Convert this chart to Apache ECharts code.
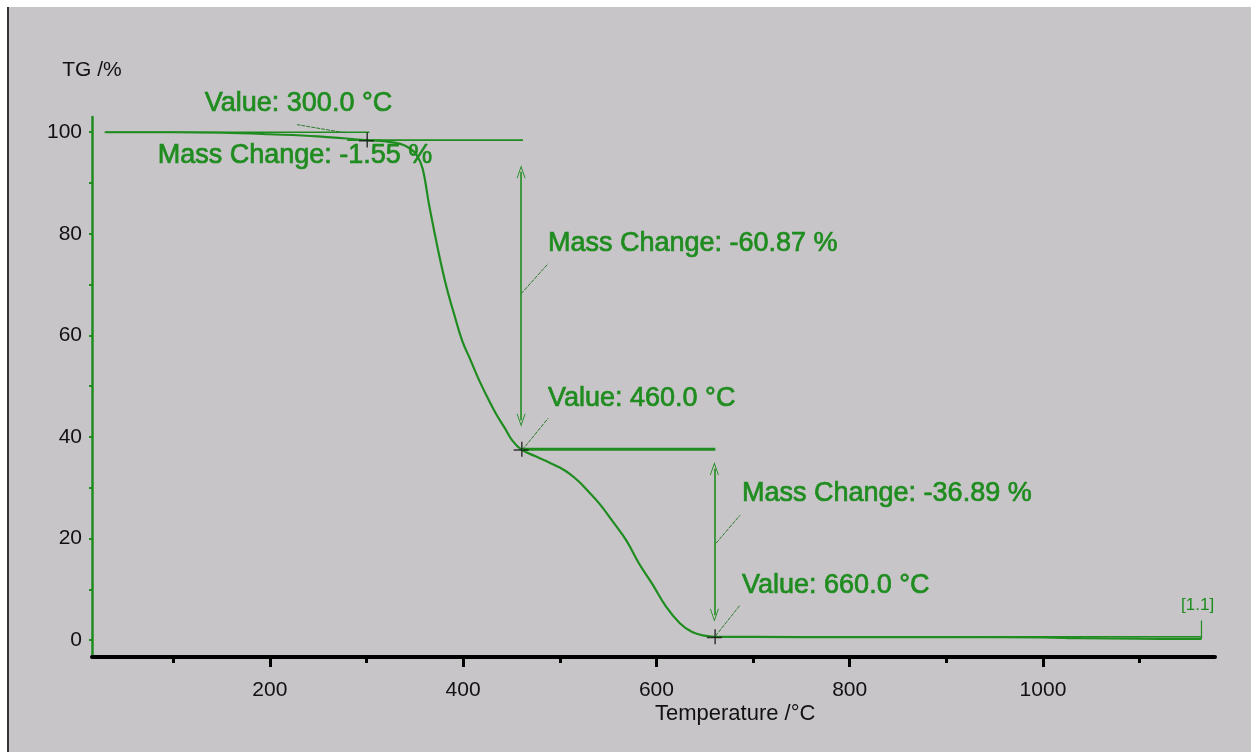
<!DOCTYPE html>
<html>
<head>
<meta charset="utf-8">
<script src="https://cdn.jsdelivr.net/npm/echarts@6/dist/echarts.min.js"></script>
<style>
  html, body { margin: 0; padding: 0; background: #fff; }
  #frame { position: absolute; left: 7px; top: 7px; width: 1244px; height: 745px;
           background: #c8c5c9; border-left: 2px solid #333; }
  #chart { position: absolute; left: 0; top: 0; width: 1251px; height: 755px; }
</style>
</head>
<body>
<div id="frame"></div>
<div id="chart"></div>
<script>
// TG curve
const temps = [30, 100, 150, 200, 250, 300, 320, 335, 345, 352, 358, 365, 375, 383, 391, 399, 408, 417, 426, 434, 443, 451, 460,
  475, 489, 500, 510, 520, 527, 541, 554, 569, 582, 596, 610, 624, 637, 651, 660, 700, 800, 900, 1000, 1040, 1100, 1164];
const tgValues = [100, 100, 99.9, 99.6, 99.2, 98.45, 98.2, 97.7, 96.8, 95.5, 92.9, 85.5, 76, 69.4, 64, 59, 55, 51, 47.5, 44.6, 41.8, 39.3, 37.58,
  36.2, 35.0, 34.0, 32.8, 31.2, 29.8, 26.9, 23.6, 19.6, 15.1, 11.0, 6.6, 3.4, 1.6, 0.85, 0.69, 0.65, 0.62, 0.6, 0.55, 0.4, 0.3, 0.25];

// evaluated steps
const stepTemps = [300, 460, 660];
const stepValues = [98.45, 37.58, 0.69];
const massChanges = [-1.55, -60.87, -36.89];

// horizontal reference lines [from, to, level]
const refFrom = [29, 280, 460, 660];
const refTo = [303, 462, 661, 1164];
const refLevel = [100, 98.45, 37.58, 0.69];

// double arrows for the mass changes
const arrowTemps = [460, 660];
const arrowTop = [92.2, 33.8];
const arrowBottom = [43.3, 4.9];

const xTickLabels = [200, 400, 600, 800, 1000];
const xMinorTicks = [100, 300, 500, 700, 900, 1100];
const yTickLabels = [0, 20, 40, 60, 80, 100];
const yTicks = [0, 10, 20, 30, 40, 50, 60, 70, 80, 90, 100];

const GREEN = '#1f8c1f';
const FONT = '"Liberation Sans", Arial, sans-serif';

const chart = echarts.init(document.getElementById('chart'));

const series = [];
series.push({
  type: 'line', data: temps.map((t, i) => [t, tgValues[i]]),
  symbol: 'none', smooth: 0.4, lineStyle: { color: GREEN, width: 2.2 }, z: 5,
  markLine: {
    silent: true, animation: false,
    symbol: ['path://M0,12 L5,0 L10,12 L9,12 L5,2.5 L1,12 Z', 'path://M0,12 L5,0 L10,12 L9,12 L5,2.5 L1,12 Z'],
    symbolSize: [9, 13],
    lineStyle: { color: GREEN, width: 1.6, type: 'solid' },
    itemStyle: { color: GREEN },
    label: { show: false },
    data: arrowTemps.map((t, i) => [{ coord: [t, arrowTop[i]] }, { coord: [t, arrowBottom[i]] }])
  }
});
refLevel.forEach((v, i) => {
  series.push({
    type: 'line', data: [[refFrom[i], v], [refTo[i], v]], symbol: 'none',
    lineStyle: { color: GREEN, width: i === 2 ? 3 : 1.6 }, z: 4
  });
});
// end marker of the curve
series.push({
  type: 'line', data: [[temps[temps.length - 1], tgValues[tgValues.length - 1]], [temps[temps.length - 1], 3.9]],
  symbol: 'none', lineStyle: { color: GREEN, width: 1.2 }
});
// crosshairs at the evaluated temperatures
series.push({
  type: 'scatter', data: stepTemps.map((t, i) => [t, stepValues[i]]),
  symbol: 'path://M0,7 L14,7 L14,8.4 L0,8.4 Z M7,0 L8.4,0 L8.4,14 L7,14 Z',
  symbolSize: 15, itemStyle: { color: '#111' }, z: 10
});

chart.setOption({
  animation: false,
  grid: { left: 92, right: 36, top: 117, bottom: 98 },
  xAxis: [{
    type: 'value', min: 16, max: 1178,
    axisLine: { show: true, onZero: false, lineStyle: { color: '#000', width: 4 } },
    axisTick: { show: true, customValues: xTickLabels, length: 10, lineStyle: { color: '#000', width: 3 } },
    axisLabel: { customValues: xTickLabels, formatter: v => String(v), color: '#111', fontSize: 21, fontFamily: FONT, margin: 23 },
    splitLine: { show: false }
  }, {
    type: 'value', min: 16, max: 1178, position: 'bottom',
    axisLine: { show: false, onZero: false },
    axisTick: { show: true, customValues: xMinorTicks, length: 6, lineStyle: { color: '#000', width: 3 } },
    axisLabel: { show: false }, splitLine: { show: false }
  }],
  yAxis: {
    type: 'value', min: -3.3, max: 103,
    name: 'TG /%', nameLocation: 'end', nameGap: 36,
    nameTextStyle: { color: '#111', fontSize: 21, fontFamily: FONT, align: 'center' },
    axisLine: { show: true, onZero: false, lineStyle: { color: GREEN, width: 2.5 } },
    axisTick: { show: true, customValues: yTicks, length: 3, lineStyle: { color: GREEN, width: 2 } },
    axisLabel: { customValues: yTickLabels, color: '#111', fontSize: 21, fontFamily: FONT, margin: 10 },
    splitLine: { show: false }
  },
  series: series
});

// annotation texts and leader lines placed through the chart's own scales
const px = (t, v) => chart.convertToPixel({ gridIndex: 0 }, [t, v]);
const labelTexts = [
  'Value: ' + stepTemps[0].toFixed(1) + ' °C',
  'Mass Change: ' + massChanges[0].toFixed(2) + ' %',
  'Mass Change: ' + massChanges[1].toFixed(2) + ' %',
  'Value: ' + stepTemps[1].toFixed(1) + ' °C',
  'Mass Change: ' + massChanges[2].toFixed(2) + ' %',
  'Value: ' + stepTemps[2].toFixed(1) + ' °C'
];
const labelAt = [[132.7, 105.6], [84, 95.4], [487.8, 78.1], [487.8, 47.6], [688.6, 28.9], [688.6, 10.8]];
const leaderFrom = [[277.6, 99.9], [460, 68.2], [461, 37.4], [661.7, 19.1], [661, 0.8]];
const leaderTo = [[228, 101.5], [487.8, 74.1], [488, 43.7], [686.5, 24.6], [686.5, 6.9]];

const graphic = [];
labelTexts.forEach((s, i) => {
  const p = px(labelAt[i][0], labelAt[i][1]);
  graphic.push({ type: 'text', x: p[0], y: p[1], z: 20,
    style: { text: s, fill: GREEN, stroke: GREEN, lineWidth: 0.7, font: '27px ' + FONT, textVerticalAlign: 'middle' } });
});
leaderFrom.forEach((a, i) => {
  const p1 = px(a[0], a[1]), p2 = px(leaderTo[i][0], leaderTo[i][1]);
  graphic.push({ type: 'line', z: 15, shape: { x1: p1[0], y1: p1[1], x2: p2[0], y2: p2[1] },
    style: { stroke: '#2b7a2b', lineWidth: 1, lineDash: [4, 1] } });
});
const endP = px(temps[temps.length - 1] - 4, 6.9);
graphic.push({ type: 'text', x: endP[0], y: endP[1], z: 20,
  style: { text: '[1.1]', fill: GREEN, font: '17px ' + FONT, textAlign: 'center', textVerticalAlign: 'middle' } });
graphic.push({ type: 'text', left: 655, top: 703, z: 20,
  style: { text: 'Temperature /°C', fill: '#111', font: '22px ' + FONT } });

chart.setOption({ graphic: graphic });
</script>
</body>
</html>
